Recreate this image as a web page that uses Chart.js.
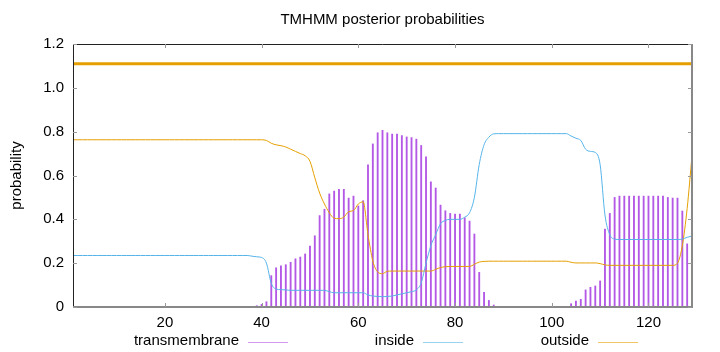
<!DOCTYPE html>
<html>
<head>
<meta charset="utf-8">
<script src="https://cdn.jsdelivr.net/npm/chart.js@4"></script>
<style>
  html, body { margin: 0; padding: 0; background: #fff; }
  #wrap { width: 720px; height: 352px; }
</style>
</head>
<body>
<div id="wrap"><canvas id="tmChart" width="720" height="352"></canvas></div>
<script>
// residue positions 1..129
const residues = Array.from({ length: 129 }, (_, i) => i + 1);

// posterior probability of transmembrane (impulses)
const transmembrane = [
  0, 0, 0, 0, 0, 0, 0, 0, 0, 0,
  0, 0, 0, 0, 0, 0, 0, 0, 0, 0,
  0, 0, 0, 0, 0, 0, 0, 0, 0, 0,
  0, 0, 0, 0, 0, 0, 0, 0.003, 0.006, 0.012,
  0.024, 0.143, 0.179, 0.188, 0.193, 0.204, 0.22, 0.228, 0.242, 0.278,
  0.325, 0.417, 0.446, 0.516, 0.529, 0.537, 0.537, 0.497, 0.506, 0.461,
  0.485, 0.649, 0.744, 0.795, 0.806, 0.795, 0.789, 0.789, 0.782, 0.776,
  0.773, 0.766, 0.737, 0.685, 0.571, 0.543, 0.465, 0.439, 0.427, 0.424,
  0.424, 0.407, 0.392, 0.333, 0.158, 0.067, 0.03, 0.009, 0.003, 0,
  0, 0, 0, 0, 0, 0, 0, 0, 0, 0,
  0, 0, 0, 0.015, 0.027, 0.035, 0.078, 0.09, 0.096, 0.119,
  0.356, 0.427, 0.5, 0.506, 0.506, 0.506, 0.506, 0.506, 0.506, 0.506,
  0.506, 0.506, 0.506, 0.5, 0.497, 0.497, 0.438, 0.288, 0
];

// posterior probability of inside
const inside = [
  0.235, 0.235, 0.235, 0.235, 0.235, 0.235, 0.235, 0.235, 0.235, 0.235,
  0.235, 0.235, 0.235, 0.235, 0.235, 0.235, 0.235, 0.235, 0.235, 0.235,
  0.235, 0.235, 0.235, 0.235, 0.235, 0.235, 0.235, 0.235, 0.235, 0.235,
  0.235, 0.235, 0.235, 0.235, 0.235, 0.235, 0.235, 0.232, 0.229, 0.226,
  0.2, 0.108, 0.082, 0.079, 0.078, 0.076, 0.076, 0.076, 0.076, 0.076,
  0.076, 0.076, 0.076, 0.07, 0.065, 0.065, 0.065, 0.065, 0.065, 0.065,
  0.065, 0.055, 0.05, 0.048, 0.047, 0.048, 0.05, 0.055, 0.06, 0.065,
  0.07, 0.078, 0.11, 0.2, 0.28, 0.33, 0.38, 0.395, 0.4, 0.4,
  0.4, 0.41, 0.43, 0.5, 0.65, 0.74, 0.775, 0.79, 0.791, 0.791,
  0.791, 0.791, 0.791, 0.791, 0.791, 0.791, 0.791, 0.791, 0.791, 0.791,
  0.791, 0.791, 0.791, 0.78, 0.77, 0.76, 0.72, 0.71, 0.705, 0.65,
  0.42, 0.33, 0.31, 0.308, 0.308, 0.308, 0.308, 0.308, 0.308, 0.308,
  0.308, 0.308, 0.308, 0.308, 0.308, 0.308, 0.31, 0.318, 0.324
];

// posterior probability of outside
const outside = [
  0.763, 0.763, 0.763, 0.763, 0.763, 0.763, 0.763, 0.763, 0.763, 0.763,
  0.763, 0.763, 0.763, 0.763, 0.763, 0.763, 0.763, 0.763, 0.763, 0.763,
  0.763, 0.763, 0.763, 0.763, 0.763, 0.763, 0.763, 0.763, 0.763, 0.763,
  0.763, 0.763, 0.763, 0.763, 0.763, 0.763, 0.763, 0.763, 0.763, 0.763,
  0.76, 0.747, 0.74, 0.736, 0.73, 0.72, 0.71, 0.7, 0.69, 0.665,
  0.59, 0.52, 0.47, 0.43, 0.405, 0.403, 0.41, 0.435, 0.44, 0.47,
  0.48, 0.33, 0.21, 0.16, 0.152, 0.163, 0.164, 0.164, 0.164, 0.164,
  0.164, 0.164, 0.164, 0.164, 0.164, 0.172, 0.18, 0.184, 0.185, 0.185,
  0.185, 0.185, 0.185, 0.195, 0.205, 0.208, 0.209, 0.209, 0.209, 0.209,
  0.209, 0.209, 0.209, 0.209, 0.209, 0.209, 0.209, 0.209, 0.209, 0.209,
  0.209, 0.209, 0.209, 0.204, 0.201, 0.201, 0.201, 0.201, 0.201, 0.198,
  0.192, 0.19, 0.19, 0.19, 0.19, 0.19, 0.19, 0.19, 0.19, 0.19,
  0.19, 0.19, 0.19, 0.19, 0.19, 0.2, 0.28, 0.45, 0.69
];

// predicted topology bar at the top (whole sequence outside)
const topologyLevel = 1.11;
const topologyRange = [1, 129];

const xTicks = [20, 40, 60, 80, 100, 120];
const yTicks = [0, 0.2, 0.4, 0.6, 0.8, 1, 1.2];

const FONT = '15px "Liberation Sans", Arial, sans-serif';
const C_TM = '#b458e6';
const C_IN = '#56b4e9';
const C_OUT = '#e69f00';

const toPoints = arr => residues.map((r, i) => ({ x: r, y: arr[i] }));

// gnuplot-like frame, inward ticks, title, y label, legend
const gnuplotDecor = {
  id: 'gnuplotDecor',
  afterDraw(chart) {
    const { ctx, chartArea: a, scales } = chart;
    const xs = scales.x, ys = scales.y;
    ctx.save();
    // frame
    ctx.lineWidth = 1;
    ctx.strokeStyle = '#222';
    ctx.beginPath();
    ctx.moveTo(a.left + 0.5, a.bottom);
    ctx.lineTo(a.left + 0.5, a.top + 0.5);
    ctx.lineTo(a.right, a.top + 0.5);
    ctx.stroke();
    ctx.strokeStyle = '#888';
    ctx.lineWidth = 2;
    ctx.beginPath();
    ctx.moveTo(a.left, a.bottom);
    ctx.lineTo(a.right, a.bottom);
    ctx.lineTo(a.right, a.top);
    ctx.stroke();
    // ticks
    ctx.lineWidth = 1;
    ctx.strokeStyle = '#999';
    ctx.beginPath();
    yTicks.forEach(v => {
      const y = Math.round(ys.getPixelForValue(v)) + 0.5;
      ctx.moveTo(a.left, y); ctx.lineTo(a.left + 4, y);
      ctx.moveTo(a.right, y); ctx.lineTo(a.right - 4, y);
    });
    xTicks.forEach(v => {
      const x = Math.round(xs.getPixelForValue(v)) + 0.5;
      ctx.moveTo(x, a.bottom); ctx.lineTo(x, a.bottom - 4);
      ctx.moveTo(x, a.top); ctx.lineTo(x, a.top + 4);
    });
    ctx.stroke();
    // title
    ctx.fillStyle = '#000';
    ctx.font = FONT;
    ctx.textAlign = 'center';
    ctx.textBaseline = 'middle';
    ctx.fillText('TMHMM posterior probabilities', (a.left + a.right) / 2, 20);
    // y axis title
    ctx.save();
    ctx.translate(17, (a.top + a.bottom) / 2);
    ctx.rotate(-Math.PI / 2);
    ctx.fillText('probability', 0, 0);
    ctx.restore();
    // legend
    const items = [
      { label: 'transmembrane', end: 239, color: C_TM },
      { label: 'inside', end: 414, color: C_IN },
      { label: 'outside', end: 589, color: C_OUT }
    ];
    ctx.textAlign = 'right';
    items.forEach(it => {
      ctx.fillStyle = '#000';
      ctx.fillText(it.label, it.end, 341);
      ctx.globalAlpha = 0.6;
      ctx.strokeStyle = it.color;
      ctx.beginPath();
      ctx.moveTo(it.end + 9, 342.5);
      ctx.lineTo(it.end + 49, 342.5);
      ctx.stroke();
      ctx.globalAlpha = 1;
    });
    ctx.restore();
  }
};

const ctx = document.getElementById('tmChart').getContext('2d');
new Chart(ctx, {
  data: {
    datasets: [
      {
        type: 'line',
        label: 'topology',
        data: topologyRange.map(x => ({ x, y: topologyLevel })),
        borderColor: C_OUT,
        borderWidth: 3,
        pointRadius: 0
      },
      {
        type: 'line',
        label: 'inside',
        data: toPoints(inside),
        borderColor: C_IN,
        borderWidth: 1,
        pointRadius: 0,
        cubicInterpolationMode: 'monotone'
      },
      {
        type: 'line',
        label: 'outside',
        data: toPoints(outside),
        borderColor: C_OUT,
        borderWidth: 1,
        pointRadius: 0,
        cubicInterpolationMode: 'monotone'
      },
      {
        type: 'bar',
        label: 'transmembrane',
        data: toPoints(transmembrane),
        backgroundColor: C_TM,
        barThickness: 1.2
      }
    ]
  },
  options: {
    responsive: false,
    animation: false,
    layout: { padding: { left: 0, right: 28, top: 44, bottom: 0 } },
    plugins: {
      legend: { display: false },
      title: { display: false },
      tooltip: { enabled: false }
    },
    scales: {
      x: {
        type: 'linear',
        min: 1,
        max: 129,
        offset: false,
        grid: { display: false, drawTicks: false },
        border: { display: false },
        afterBuildTicks: s => { s.ticks = xTicks.map(v => ({ value: v })); },
        afterFit: s => { s.height = 45; },
        ticks: { color: '#000', font: { family: '"Liberation Sans", Arial, sans-serif', size: 15 }, padding: 7, maxRotation: 0 }
      },
      y: {
        min: 0,
        max: 1.2,
        grid: { display: false, drawTicks: false },
        border: { display: false },
        afterBuildTicks: s => { s.ticks = yTicks.map(v => ({ value: v })); },
        afterFit: s => { s.width = 73; },
        ticks: { color: '#000', font: { family: '"Liberation Sans", Arial, sans-serif', size: 15 }, padding: 9 }
      }
    }
  },
  plugins: [gnuplotDecor]
});
</script>
</body>
</html>
